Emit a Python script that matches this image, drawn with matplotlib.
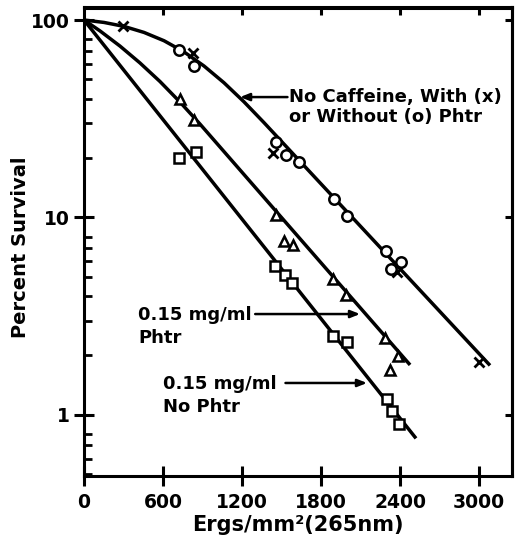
import matplotlib
matplotlib.use('Agg')
import matplotlib.pyplot as plt
from matplotlib.ticker import LogLocator, NullFormatter, FixedLocator

# ---- data ----
dose_circle = [721, 838, 1458, 1534, 1635, 1901, 2000, 2294, 2329, 2405]
surv_circle = [70.5, 58.5, 24.2, 20.7, 19.0, 12.4, 10.2, 6.76, 5.47, 5.97]
dose_cross = [294, 830, 1438, 2375, 3003]
surv_cross = [93.2, 67.8, 21.3, 5.32, 1.86]
dose_tri = [729, 835, 1458, 1521, 1590, 1894, 1987, 2286, 2324, 2387]
surv_tri = [39.6, 31.2, 10.3, 7.63, 7.26, 4.87, 4.06, 2.44, 1.68, 1.99]
dose_sq = [724, 851, 1451, 1527, 1582, 1894, 1995, 2299, 2342, 2395]
surv_sq = [19.9, 21.5, 5.67, 5.12, 4.64, 2.51, 2.35, 1.20, 1.04, 0.90]

# drawn survival curves
curve_nocaf_x = [0, 152, 304, 456, 608, 760, 911, 1063, 1215, 1367, 3083]
curve_nocaf_y = [100, 97.2, 92.8, 86.5, 78.5, 68.9, 58.5, 48.1, 38.5, 30.2, 1.78]
curve_phtr_x = [0, 121, 273, 425, 577, 729, 881, 2476]
curve_phtr_y = [100, 88.1, 73.8, 60.6, 48.8, 38.4, 29.7, 1.79]
curve_nophtr_x = [0, 2521]
curve_nophtr_y = [100, 0.76]

x_ticks = [0, 600, 1200, 1800, 2400, 3000]
y_ticks = [1, 10, 100]
y_ticklabels = ['1', '10', '100']

plt.rcParams['font.family'] = ['DejaVu Sans']
plt.rcParams['font.weight'] = 'bold'

fig = plt.figure(figsize=(5.17, 5.39), dpi=100)
ax = fig.add_axes([84/517, 1-476/539, (512-84)/517, (476-7.5)/539])

LW = 2.5
for cx, cy in [(curve_nocaf_x, curve_nocaf_y), (curve_phtr_x, curve_phtr_y),
               (curve_nophtr_x, curve_nophtr_y)]:
    ax.plot(cx, cy, color='black', lw=LW, solid_capstyle='butt',
            solid_joinstyle='round', zorder=2)

ax.plot(dose_cross, surv_cross, 'x', color='black', ms=7, mew=2.0, zorder=3)
ax.plot(dose_circle, surv_circle, 'o', mfc='white', mec='black', ms=7.5, mew=1.8, zorder=4)
ax.plot(dose_tri, surv_tri, '^', mfc='white', mec='black', ms=7, mew=1.8, zorder=4)
ax.plot(dose_sq, surv_sq, 's', mfc='white', mec='black', ms=6.5, mew=1.8, zorder=4)

ax.set_yscale('log')
ax.set_xlim(0, 3250)
ax.set_ylim(0.49, 115.7)

ax.xaxis.set_major_locator(FixedLocator(x_ticks))
ax.set_xticklabels([str(t) for t in x_ticks])
ax.yaxis.set_major_locator(FixedLocator(y_ticks))
ax.set_yticklabels(y_ticklabels)
ax.yaxis.set_minor_locator(LogLocator(base=10, subs=(2, 3, 4, 5, 6, 7, 8)))
ax.yaxis.set_minor_formatter(NullFormatter())
ax.xaxis.set_minor_locator(FixedLocator([]))

ax.tick_params(which='major', direction='inout', length=15, width=2.2, labelsize=13.5,
               top=False, right=False)
ax.tick_params(axis='x', which='major', pad=5)
ax.tick_params(axis='y', which='major', pad=3)
ax.tick_params(axis='y', which='minor', direction='in', length=6, width=2.0,
               left=True, right=False)
for s in ax.spines.values():
    s.set_linewidth(2.2)

# top and right ticks pointing inward, without labels
secx = ax.secondary_xaxis('top')
secx.xaxis.set_major_locator(FixedLocator(x_ticks[1:]))
secx.tick_params(direction='in', length=6, width=2.2, labeltop=False)
secx.spines['top'].set_linewidth(2.2)
secy = ax.secondary_yaxis('right')
secy.yaxis.set_major_locator(FixedLocator(y_ticks))
secy.yaxis.set_minor_locator(FixedLocator([]))
secy.tick_params(direction='in', length=5, width=2.2, labelright=False)
secy.spines['right'].set_linewidth(2.2)

# annotations
fs = 13
arrow_kw = dict(arrowstyle='-|>,head_length=0.55,head_width=0.22', lw=1.8, color='black',
                shrinkA=0, shrinkB=0)
ax.annotate('', xy=(1185, 40.7), xytext=(1545, 40.7), arrowprops=arrow_kw)
ax.text(1560, 40.7, 'No Caffeine, With (x)', fontsize=fs, fontweight='bold', ha='left', va='center')
ax.text(1560, 32.3, 'or Without (o) Phtr', fontsize=fs, fontweight='bold', ha='left', va='center')

ax.annotate('', xy=(2096, 3.24), xytext=(1300, 3.24), arrowprops=arrow_kw)
ax.text(410, 3.21, '0.15 mg/ml', fontsize=fs, fontweight='bold', ha='left', va='center')
ax.text(410, 2.45, 'Phtr', fontsize=fs, fontweight='bold', ha='left', va='center')

ax.annotate('', xy=(2149, 1.45), xytext=(1530, 1.45), arrowprops=arrow_kw)
ax.text(600, 1.44, '0.15 mg/ml', fontsize=fs, fontweight='bold', ha='left', va='center')
ax.text(600, 1.098, 'No Phtr', fontsize=fs, fontweight='bold', ha='left', va='center')

fig.text(298/517, 1-525/539, 'Ergs/mm²(265nm)', fontsize=15, fontweight='bold',
         ha='center', va='center')
fig.text(21/517, 1-247/539, 'Percent Survival', fontsize=14, fontweight='bold',
         ha='center', va='center', rotation=90)

fig.savefig('out.png', dpi=100)
